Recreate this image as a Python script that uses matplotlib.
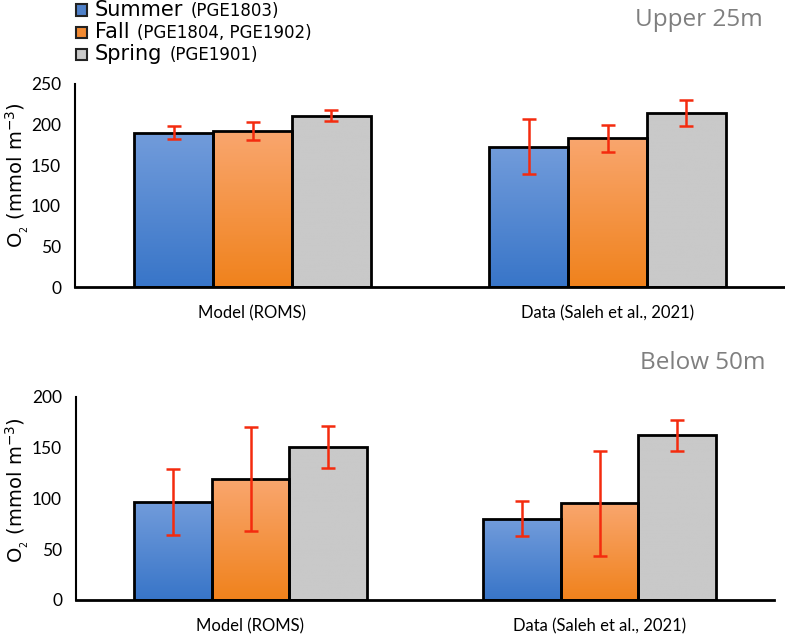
import numpy as np
import matplotlib
matplotlib.use("Agg")
import matplotlib.pyplot as plt
from matplotlib.patches import Rectangle
from matplotlib.colors import LinearSegmentedColormap

categories = ["Model (ROMS)", "Data (Saleh et al., 2021)"]
seasons = ["Summer", "Fall", "Spring"]
cruises = ["(PGE1803)", "(PGE1804, PGE1902)", "(PGE1901)"]

upper_vals = {"Summer": [190, 173], "Fall": [192, 183], "Spring": [211, 214]}
upper_err = {"Summer": [8, 34], "Fall": [11, 17], "Spring": [7, 16]}
below_vals = {"Summer": [96.5, 80], "Fall": [119, 95], "Spring": [150.5, 162]}
below_err = {"Summer": [32.5, 17], "Fall": [51, 52], "Spring": [21, 15]}

panel_titles = ["Upper 25m", "Below 50m"]
upper_ticks = [0, 50, 100, 150, 200, 250]
below_ticks = [0, 50, 100, 150, 200]

grad_top = {"Summer": "#729CDB", "Fall": "#F9A66E", "Spring": "#C9C9C9"}
grad_bot = {"Summer": "#3875C8", "Fall": "#F0821C", "Spring": "#C9C9C9"}
legend_col = {"Summer": "#4F81C9", "Fall": "#F28A32", "Spring": "#C9C9C9"}
err_color = "#F42B0E"

tick_font = "Lato"
W, H = 785, 634

fig = plt.figure(figsize=(7.85, 6.34), dpi=100)
ax1 = fig.add_axes([75 / W, 1 - 287 / H, 710 / W, 203 / H])
ax2 = fig.add_axes([76 / W, 1 - 600 / H, 698 / W, 203.3 / H])

width = 0.2225
x = np.arange(len(categories))


def draw(ax, vals, errs, ymax, ticks, left_px, width_px, label_y):
    ax.set_xlim(-0.5, 1.5)
    ax.set_ylim(0, ymax)
    for i, s in enumerate(seasons):
        pos = x + (i - 1) * width
        bars = ax.bar(pos, vals[s], width, facecolor="none", edgecolor="black",
                      linewidth=2, zorder=3)
        cmap = LinearSegmentedColormap.from_list(s, [grad_bot[s], grad_top[s]])
        for b in bars:
            x0, w, h = b.get_x(), b.get_width(), b.get_height()
            grad = np.linspace(0, 1, 256).reshape(-1, 1)
            im = ax.imshow(grad, cmap=cmap, origin="lower", aspect="auto",
                           extent=[x0, x0 + w, 0, h], zorder=2)
            im.set_clip_path(b)
        ax.errorbar(pos, vals[s], yerr=errs[s], fmt="none", ecolor=err_color,
                    elinewidth=1.8, capsize=5, capthick=1.8, zorder=4)
    ax.set_xlim(-0.5, 1.5)
    ax.set_ylim(0, ymax)
    ax.set_yticks(ticks)
    ax.set_yticklabels([str(t) for t in ticks], fontsize=12.5, family=tick_font)
    ax.set_xticks(x)
    ax.set_xticklabels(categories, fontsize=12, family=tick_font)
    ax.tick_params(axis="y", length=0, pad=10)
    ax.tick_params(axis="x", length=0, pad=13)
    for sp in ["top", "right"]:
        ax.spines[sp].set_visible(False)
    ax.spines["left"].set_linewidth(1.5)
    ax.spines["bottom"].set_linewidth(2)
    ax.set_ylabel(r"O$_{\mathregular{_2}}$ (mmol m$^{-3}$)", fontsize=14,
                  family="DejaVu Sans")
    ax.yaxis.label.set_va("center")
    ax.yaxis.set_label_coords((17 - left_px) / width_px, label_y)


draw(ax1, upper_vals, upper_err, 250, upper_ticks, 75, 710, 0.55)
draw(ax2, below_vals, below_err, 200, below_ticks, 76, 698, 0.54)

fig.text(0.972, 0.968, panel_titles[0], ha="right", va="center", fontsize=17.5,
         family="Open Sans", color="#7F7F7F")
fig.text(0.975, 0.427, panel_titles[1], ha="right", va="center", fontsize=17.5,
         family="Open Sans", color="#7F7F7F")

# legend
fig.canvas.draw()
renderer = fig.canvas.get_renderer()
ys = [10, 32, 54]
for s, c, yy in zip(seasons, cruises, ys):
    fig.patches.append(Rectangle((76 / W, 1 - (yy + 5.5) / H), 11 / W, 11 / H,
                                 transform=fig.transFigure, facecolor=legend_col[s],
                                 edgecolor="#222222", linewidth=1.5))
    t = fig.text(95 / W, 1 - yy / H, s, ha="left", va="center", fontsize=15,
                 family="DejaVu Sans")
    bb = t.get_window_extent(renderer)
    fig.text((bb.x1 + 7) / W, 1 - (yy + 1) / H, c, ha="left", va="center",
             fontsize=12, family="DejaVu Sans")

fig.savefig("out.png", dpi=100)
